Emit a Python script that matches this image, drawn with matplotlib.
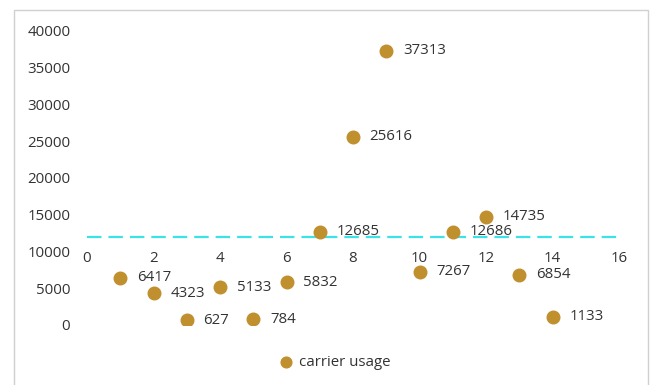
import matplotlib.pyplot as plt
from matplotlib.patches import Rectangle

# datos
x_vals = [1, 2, 3, 4, 5, 6, 7, 8, 9, 10, 11, 12, 13, 14]
usage = [6417, 4323, 627, 5133, 784, 5832, 12685, 25616, 37313, 7267, 12686, 14735, 6854, 1133]
threshold = 12000
x_ticks = [0, 2, 4, 6, 8, 10, 12, 14, 16]
y_ticks = [0, 5000, 10000, 15000, 20000, 25000, 30000, 35000, 40000]

plt.rcParams['font.family'] = ['Open Sans', 'DejaVu Sans']

fig = plt.figure(figsize=(6.52, 3.85), dpi=100)
ax = fig.add_axes([87/652, 1-325/385, (619-87)/652, (325-31)/385])

# borde gris de la figura
fig.patches.append(Rectangle((14/652, -0.02), (648-14)/652, 1-10/385+0.02,
                             transform=fig.transFigure, fill=False,
                             edgecolor='#d0d0d0', linewidth=1))

ax.scatter(x_vals, usage, s=82, color='#C0902F', zorder=3, label='carrier usage')
for xv, yv in zip(x_vals, usage):
    ax.annotate(str(yv), (xv, yv), xytext=(12, 0), textcoords='offset points',
                va='center', ha='left', fontsize=10.8, color='#333333')

ax.plot([0, 16], [threshold, threshold], color='#3BE3E6', linestyle=(0, (6.5, 3.15)),
        linewidth=1.6, zorder=2)

ax.set_xlim(0, 16)
ax.set_ylim(0, 40000)
ax.set_xticks(x_ticks)
ax.set_yticks(y_ticks)
ax.spines['bottom'].set_position(('data', 10000))
for s in ['top', 'right', 'left', 'bottom']:
    ax.spines[s].set_visible(False)
ax.tick_params(axis='both', length=0, labelsize=10.8, colors='#333333')
ax.tick_params(axis='x', pad=0)
ax.tick_params(axis='y', pad=12)
ax.set_facecolor('none')

fig.legend(loc='center', bbox_to_anchor=(331/652, 1-362/385), frameon=False,
           fontsize=10.8, labelcolor='#333333', handletextpad=-0.1, markerscale=0.85)

fig.savefig('out.png', dpi=100)
